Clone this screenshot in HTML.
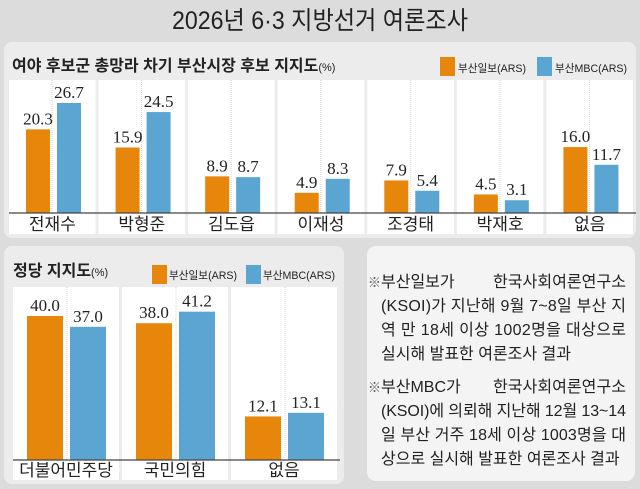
<!DOCTYPE html>
<html><head><meta charset="utf-8">
<style>
html,body{margin:0;padding:0;background:#dcdcdc;}
svg{display:block;}
text{font-family:"Liberation Sans","Noto Sans CJK KR",sans-serif;}
.num{font-family:"Liberation Serif","Noto Serif CJK SC",serif;font-size:17px;fill:#222;}
</style></head>
<body>
<svg id="chart" width="640" height="489" viewBox="0 0 640 489" xmlns="http://www.w3.org/2000/svg">
<rect x="0" y="0" width="640" height="489" fill="#dcdcdc"/>
<text x="320" y="29" text-anchor="middle" font-size="25" fill="#222" textLength="296" lengthAdjust="spacingAndGlyphs">2026년 6·3 지방선거 여론조사</text>

<rect x="4" y="42" width="632" height="196" rx="8" fill="#ececec"/>
<text x="12" y="71" font-size="16" font-weight="bold" fill="#222">여야 후보군 총망라 차기 부산시장 후보 지지도<tspan font-size="11" font-weight="normal">(%)</tspan></text>
<g>
<rect x="440" y="57" width="15" height="19" fill="#e6860a"/>
<text x="458" y="72" font-size="11" fill="#222" textLength="68" lengthAdjust="spacingAndGlyphs">부산일보(ARS)</text>
<rect x="537" y="57" width="15" height="19" fill="#5aa5d2"/>
<text x="555" y="72" font-size="11" fill="#222" textLength="72" lengthAdjust="spacingAndGlyphs">부산MBC(ARS)</text>
</g>
<g id="top"></g>

<rect x="4" y="246" width="340" height="238" rx="8" fill="#ececec"/>
<text x="13" y="276" font-size="16" font-weight="bold" fill="#222">정당 지지도<tspan font-size="11" font-weight="normal">(%)</tspan></text>
<g>
<rect x="152" y="265" width="15" height="19" fill="#e6860a"/>
<text x="169" y="279" font-size="11" fill="#222" textLength="68" lengthAdjust="spacingAndGlyphs">부산일보(ARS)</text>
<rect x="246" y="265" width="15" height="19" fill="#5aa5d2"/>
<text x="263" y="279" font-size="11" fill="#222" textLength="72" lengthAdjust="spacingAndGlyphs">부산MBC(ARS)</text>
</g>
<g id="bottom"></g>

<rect x="367" y="246" width="268" height="235" rx="9" fill="#f4f4f4"/>
<g font-size="16" fill="#222">
<text x="368" y="287"><tspan font-size="13" fill="#555">※</tspan>부산일보가</text>
<text x="493" y="287" textLength="133" lengthAdjust="spacingAndGlyphs">한국사회여론연구소</text>
<text x="381" y="311" textLength="245" lengthAdjust="spacing">(KSOI)가 지난해 9월 7~8일 부산 지</text>
<text x="381" y="335" textLength="245" lengthAdjust="spacing">역 만 18세 이상 1002명을 대상으로</text>
<text x="381" y="359">실시해 발표한 여론조사 결과</text>
<text x="368" y="392"><tspan font-size="13" fill="#555">※</tspan>부산MBC가</text>
<text x="493" y="392" textLength="133" lengthAdjust="spacingAndGlyphs">한국사회여론연구소</text>
<text x="381" y="416" textLength="245" lengthAdjust="spacing">(KSOI)에 의뢰해 지난해 12월 13~14</text>
<text x="381" y="440" textLength="245" lengthAdjust="spacing">일 부산 거주 18세 이상 1003명을 대</text>
<text x="381" y="464">상으로 실시해 발표한 여론조사 결과</text>
</g>
</svg>
<script>
const candidates = ["전재수","박형준","김도읍","이재성","조경태","박재호","없음"];
const candBusanIlbo = [20.3,15.9,8.9,4.9,7.9,4.5,16.0];
const candBusanMBC = [26.7,24.5,8.7,8.3,5.4,3.1,11.7];
const parties = ["더불어민주당","국민의힘","없음"];
const partyBusanIlbo = [40.0,38.0,12.1];
const partyBusanMBC = [37.0,41.2,13.1];

const NS = "http://www.w3.org/2000/svg";
function mk(parent, tag, attrs){const e=document.createElementNS(NS,tag);for(const k in attrs)e.setAttribute(k,attrs[k]);parent.appendChild(e);return e;}

function drawChart(g, cats, s1, s2, cfg){
  const n=cats.length;
  const colW=(cfg.x1-cfg.x0)/n;
  const yScale=v=>cfg.base - v*cfg.ppu;
  cats.forEach((c,i)=>{
    const cx=cfg.x0+i*colW;
    const col=mk(g,'rect',{x:cx,y:cfg.top,width:colW-cfg.gap,height:cfg.labelBottom-cfg.top,fill:'#fff'});
    
    
    const dl=mk(g,'line',{x1:cx+cfg.mid,x2:cx+cfg.mid,y1:cfg.top,y2:cfg.base,stroke:'#d4d4d4','stroke-width':1,'stroke-dasharray':'1,1'});
    
    
    [[s1,cfg.o1,'#e6860a'],[s2,cfg.o2,'#5aa5d2']].forEach(([arr,off,color],k)=>{
      const v=arr[i];const y=yScale(v);
      const b=mk(g,'rect',{x:cx+off,y:y,width:cfg.bw,height:cfg.base-y,fill:color});
      
      
      const t=mk(g,'text',{x:cx+off+cfg.bw/2,y:y-5,'text-anchor':'middle',class:'num'});
      t.textContent=v.toFixed(1);
      
      
    });
    const lb=mk(g,'text',{x:cx+(colW-cfg.gap)/2,y:cfg.labelY,'text-anchor':'middle','font-size':17,fill:'#222'});
    lb.textContent=c;
    
    
  });
  const ax=mk(g,'line',{x1:cfg.x0,x2:cfg.x1,y1:cfg.base,y2:cfg.base,stroke:'#444','stroke-width':1.2});
  
  
}
drawChart(document.getElementById('top'),candidates,candBusanIlbo,candBusanMBC,
  {x0:9,x1:636,top:80,base:213,labelBottom:234,ppu:4.12,gap:3,o1:17,o2:48,bw:24,mid:43,labelY:230});
drawChart(document.getElementById('bottom'),parties,partyBusanIlbo,partyBusanMBC,
  {x0:13,x1:340,top:287,base:460,labelBottom:480,ppu:3.6,gap:3,o1:14,o2:57,bw:36,mid:54,labelY:476});
</script>
</body></html>
